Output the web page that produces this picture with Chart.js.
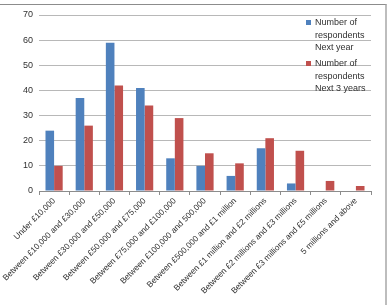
<!DOCTYPE html>
<html>
<head>
<meta charset="utf-8">
<script src="https://cdn.jsdelivr.net/npm/chart.js@4/dist/chart.umd.min.js"></script>
<style>
html,body{margin:0;padding:0;background:#fff;}
#wrap{position:relative;width:390px;height:305px;overflow:hidden;font-family:"Liberation Sans",Arial,sans-serif;}
#frame{position:absolute;left:0;top:4px;width:385px;height:310px;border-top:1px solid #8c8c8c;border-right:2px solid #bdbdbd;pointer-events:none;}
canvas{position:absolute;left:0;top:0;}
#legend{position:absolute;left:306px;top:16px;font-size:9px;line-height:12.5px;color:#303030;}
.item{position:relative;padding-left:9px;margin-bottom:3.5px;}
.sw{position:absolute;left:0;top:4px;width:5px;height:5px;}
</style>
</head>
<body>
<div id="wrap">
<canvas id="c" width="390" height="305"></canvas>
<div id="frame"></div>
<div id="legend"></div>
</div>
<script>
const categories = [
  "Under £10,000",
  "Between £10,000 and £30,000",
  "Between £30,000 and £50,000",
  "Between £50,000 and £75,000",
  "Between £75,000 and £100,000",
  "Between £100,000 and 500,000",
  "Between £500,000 and £1 million",
  "Between £1 million and £2 millions",
  "Between £2 millions and £3 millions",
  "Between £3 millions and £5 millions",
  "5 millions and above"
];
const nextYear = [24, 37, 59, 41, 13, 10, 6, 17, 3, 0, 0];
const next3Years = [10, 26, 42, 34, 29, 15, 11, 21, 16, 4, 2];
const seriesNames = [["Number of", "respondents", "Next year"], ["Number of", "respondents", "Next 3 years"]];
const colors = ["#4f81bd", "#c0504d"];
const yTicks = [0, 10, 20, 30, 40, 50, 60, 70];

const lg = document.getElementById('legend');
seriesNames.forEach((lines, i) => {
  const d = document.createElement('div');
  d.className = 'item';
  const s = document.createElement('span');
  s.className = 'sw';
  s.style.background = colors[i];
  d.appendChild(s);
  lines.forEach(t => { const l = document.createElement('div'); l.textContent = t; d.appendChild(l); });
  lg.appendChild(d);
});

new Chart(document.getElementById('c'), {
  type: 'bar',
  data: {
    labels: categories,
    datasets: [
      { label: seriesNames[0].join(' '), data: nextYear, backgroundColor: colors[0] },
      { label: seriesNames[1].join(' '), data: next3Years, backgroundColor: colors[1] }
    ]
  },
  options: {
    responsive: false,
    animation: false,
    events: [],
    layout: { padding: { top: 15, right: 19, left: 0, bottom: 0 } },
    plugins: { legend: { display: false }, tooltip: { enabled: false } },
    datasets: { bar: { categoryPercentage: 0.57, barPercentage: 1.0 } },
    scales: {
      x: {
        grid: { offset: true, drawOnChartArea: false, drawTicks: true, tickLength: 4, color: '#8c8c8c' },
        border: { color: '#8c8c8c' },
        ticks: { autoSkip: false, minRotation: 45, maxRotation: 45, padding: 1, color: '#303030',
                 font: { family: '"Liberation Sans", Arial, sans-serif', size: 8.3 } },
        afterFit(s) { s.height = 114; }
      },
      y: {
        min: 0, max: 70,
        afterBuildTicks(s) { s.ticks = yTicks.map(v => ({ value: v })); },
        grid: { color: '#b8b8b8', drawTicks: false },
        border: { display: false },
        ticks: { padding: 6, color: '#303030', font: { family: '"Liberation Sans", Arial, sans-serif', size: 9 } },
        afterFit(s) { s.width = 39; }
      }
    }
  }
});
</script>
</body>
</html>
